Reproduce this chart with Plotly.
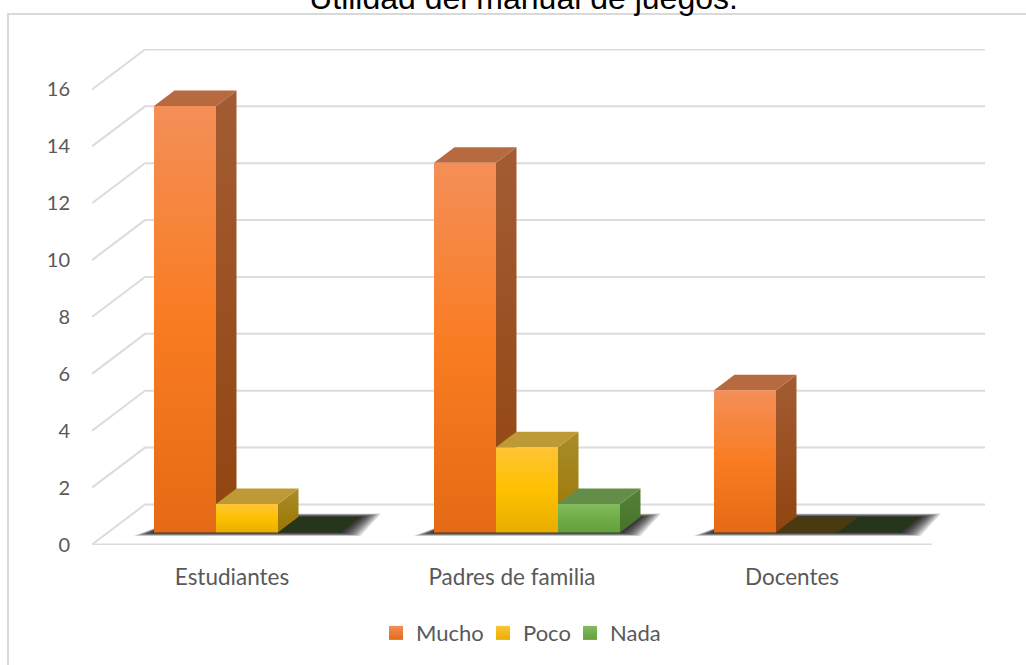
import plotly.graph_objects as go

categories = ["Estudiantes", "Padres de familia", "Docentes"]
series_names = ["Mucho", "Poco", "Nada"]
mucho = [15, 13, 5]
poco = [1, 3, 0]
nada = [0, 1, 0]
y_ticks = [0, 2, 4, 6, 8, 10, 12, 14, 16]
title_text = "Utilidad del manual de juegos."

series_values = [mucho, poco, nada]

# styles: front gradient (bottom, mid, top), top face, side gradient (bottom, top), zero-height colour
STYLES = [
    dict(front=["#E56A15", "#F97C22", "#F48F58"], top="#B76A40", side=["#91440F", "#A35C33"], zero="#4A3512"),
    dict(front=["#E8AE00", "#FFC000", "#FFC535"], top="#BE9A36", side=["#9A7700", "#A98C2A"], zero="#4A3A10"),
    dict(front=["#64A03B", "#70AD47", "#84BC5F"], top="#648D4A", side=["#44742A", "#558138"], zero="#25361B"),
]

PX_X = 280.0          # pixels per category
PX_Y = 28.44          # pixels per value unit
BAR_W = 62 / PX_X
GAP = 47 / PX_X
PLANE = (15 / PX_X, 12 / PX_Y)     # floor position of the bar front
DEPTH = (20.5 / PX_X, 15.5 / PX_Y) # bar depth
WALL = (53 / PX_X, 40 / PX_Y)      # wall depth

fig = go.Figure()


def poly(xs, ys, color=None, gradient=None):
    kw = dict(x=xs, y=ys, mode="lines", fill="toself", line=dict(width=0),
              hoverinfo="skip", showlegend=False, cliponaxis=False)
    if gradient:
        n = len(gradient) - 1
        kw["fillgradient"] = dict(type="vertical",
                                  colorscale=[[i / n, c] for i, c in enumerate(gradient)])
        kw["fillcolor"] = gradient[0]
    else:
        kw["fillcolor"] = color
    fig.add_trace(go.Scatter(**kw))


# walls and gridlines
gx, gy = [], []
for v in y_ticks:
    gx += [0, WALL[0], len(categories) + WALL[0], None]
    gy += [v, v + WALL[1], v + WALL[1], None]
gx += [0, len(categories)]
gy += [0, 0]
fig.add_trace(go.Scatter(x=gx, y=gy, mode="lines", line=dict(color="#DCDCDC", width=2),
                         hoverinfo="skip", showlegend=False, cliponaxis=False))

# soft shadows below each group
for i in range(len(categories)):
    x0 = i + GAP + PLANE[0]
    x1 = x0 + BAR_W * len(series_values)
    for k in range(1, 17):
        ex = 1.3 * k / PX_X
        ey = 0.22 * k / PX_Y
        poly([x0 - ex, x1 + ex, x1 + DEPTH[0] + ex, x0 + DEPTH[0] + ex],
             [PLANE[1] - ey, PLANE[1] - ey, PLANE[1] + DEPTH[1] + ey, PLANE[1] + DEPTH[1] + ey],
             color="rgba(0,0,0,0.09)")

# bars
for i in range(len(categories)):
    for j, vals in enumerate(series_values):
        v = vals[i]
        s = STYLES[j]
        x0 = i + GAP + PLANE[0] + j * BAR_W
        x1 = x0 + BAR_W
        b = PLANE[1]
        t = b + v
        dx, dy = DEPTH
        if v == 0:
            poly([x0, x1, x1 + dx, x0 + dx], [b, b, b + dy, b + dy], color=s["zero"])
            continue
        poly([x1, x1 + dx, x1 + dx, x1], [b, b + dy, t + dy, t], gradient=s["side"])
        poly([x0, x1, x1 + dx, x0 + dx], [t, t, t + dy, t + dy], color=s["top"])
        poly([x0, x1, x1, x0], [b, b, t, t], gradient=s["front"])

# legend entries, one small legend per series so each sits where the reference has it
legend_ids = ["legend", "legend2", "legend3"]
legend_x = [376, 483, 570]
for name, s, lid in zip(series_names, STYLES, legend_ids):
    fig.add_trace(go.Scatter(
        x=[None], y=[None], mode="markers", name=name, legend=lid,
        marker=dict(symbol="square", size=14, color=s["front"][2],
                    gradient=dict(type="vertical", color=s["front"][0]), line=dict(width=0)),
    ))

legend_style = {
    lid: dict(x=px / 1026, xref="container", xanchor="left",
              y=0.048, yref="container", yanchor="middle", orientation="h",
              font=dict(size=22), itemclick=False, itemdoubleclick=False,
              bgcolor="rgba(0,0,0,0)")
    for lid, px in zip(legend_ids, legend_x)
}

fig.update_layout(
    width=1026, height=665, autosize=False,
    margin=dict(l=92, r=41, t=49, b=120),
    paper_bgcolor="white", plot_bgcolor="rgba(0,0,0,0)",
    font=dict(family="Lato", color="#595959", size=22),
    title=dict(text=title_text, x=523.5 / 1026, xref="container", xanchor="center",
               y=0.987, yref="container", yanchor="bottom",
               font=dict(family="Liberation Sans", size=32, color="#000000")),
    xaxis=dict(range=[0, 893 / PX_X], tickvals=[0.5, 1.5, 2.5], ticktext=categories,
               showgrid=False, zeroline=False, showline=False, ticks="", ticklabelstandoff=16,
               tickfont=dict(size=22.5), fixedrange=True),
    yaxis=dict(range=[-0.5 / PX_Y, 495.5 / PX_Y], tickvals=y_ticks, showgrid=False, zeroline=False,
               showline=False, ticks="", ticklabelstandoff=21, fixedrange=True,
               tickfont=dict(size=20)),
    shapes=[dict(type="rect", xref="paper", yref="paper",
                 x0=-84 / 893, x1=1 + 60 / 893, y0=-140 / 496, y1=531 / 496,
                 line=dict(color="#D9D9D9", width=2), fillcolor="rgba(0,0,0,0)", layer="below")],
    **legend_style,
)

# the reference is flush with the window edge, so drop the page's default margin
fig.write_html("out.html", config={"displayModeBar": False},
               post_script="document.body.style.margin='0';")
